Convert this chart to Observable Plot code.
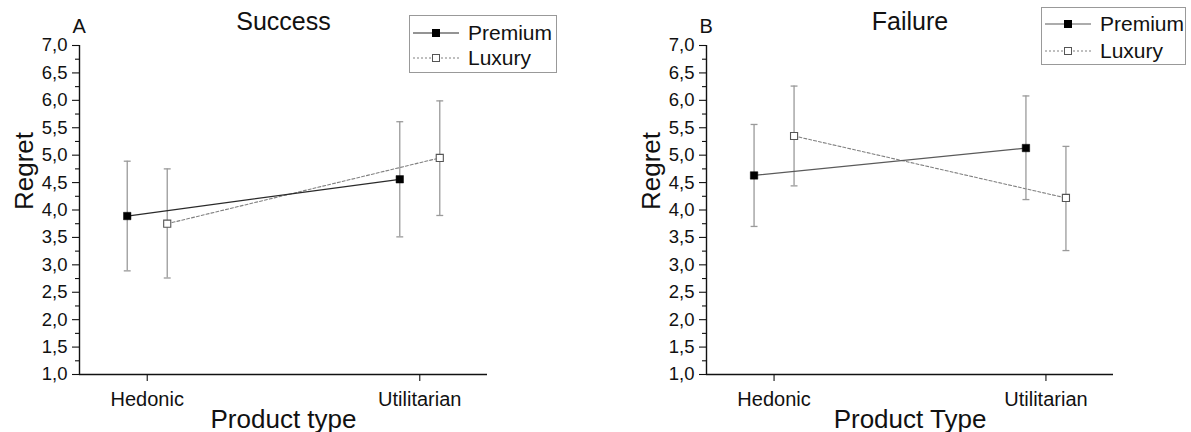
<!DOCTYPE html>
<html>
<head>
<meta charset="utf-8">
<script src="https://cdn.jsdelivr.net/npm/d3@7"></script>
<script src="https://cdn.jsdelivr.net/npm/@observablehq/plot@0.6"></script>
<style>
  html, body { margin: 0; padding: 0; background: #fff; }
  #root { position: relative; width: 1191px; height: 432px; overflow: hidden; font-family: "Liberation Sans", Arial, sans-serif; color: #111; }
  .panel { position: absolute; top: 0; }
  .legend { position: absolute; border: 1px solid #999; background: #fff; box-sizing: border-box; }
  .legend .row { position: absolute; left: 2px; display: flex; align-items: center; height: 24px; }
  .legend .row span { font-size: 21px; line-height: 24px; margin-left: 8px; color: #111; }
  .legend svg { display: block; }
</style>
</head>
<body>
<div id="root"></div>
<script>
// ---------- data ----------
const categories = ["Hedonic", "Utilitarian"];
const seriesNames = ["Premium", "Luxury"];
const yTickValues = [1, 1.5, 2, 2.5, 3, 3.5, 4, 4.5, 5, 5.5, 6, 6.5, 7];
const yMinorTickValues = [1.25, 1.75, 2.25, 2.75, 3.25, 3.75, 4.25, 4.75, 5.25, 5.75, 6.25, 6.75];

// Panel A: Success
const successPremium   = [3.89, 4.56];
const successPremiumLo = [2.89, 3.51];
const successPremiumHi = [4.89, 5.61];
const successLuxury    = [3.75, 4.95];
const successLuxuryLo  = [2.76, 3.90];
const successLuxuryHi  = [4.75, 5.99];

// Panel B: Failure
const failurePremium   = [4.63, 5.13];
const failurePremiumLo = [3.70, 4.19];
const failurePremiumHi = [5.56, 6.08];
const failureLuxury    = [5.35, 4.22];
const failureLuxuryLo  = [4.44, 3.26];
const failureLuxuryHi  = [6.26, 5.16];

const panels = [
  {letter: "A", title: "Success", xLabel: "Product type",
   premium: [successPremium, successPremiumLo, successPremiumHi],
   luxury: [successLuxury, successLuxuryLo, successLuxuryHi],
   left: 0, width: 595, mLeft: 79, mRight: 108, premiumLine: "#2a2a2a",
   legend: {left: 409, top: 15, width: 148, height: 58, rows: [5, 30]}},
  {letter: "B", title: "Failure", xLabel: "Product Type",
   premium: [failurePremium, failurePremiumLo, failurePremiumHi],
   luxury: [failureLuxury, failureLuxuryLo, failureLuxuryHi],
   left: 596, width: 595, mLeft: 110, mRight: 78, premiumLine: "#5a5a5a",
   legend: {left: 1041, top: 7, width: 145, height: 58, rows: [4, 31]}}
];

const xDomain = [-0.2485, 1.2485];
const yDomain = [1, 7];
const fmt = d => d.toFixed(1).replace(".", ",");
const capSymbol = {draw(ctx, size) { const w = Math.sqrt(size) / 2; ctx.moveTo(-w, 0); ctx.lineTo(w, 0); }};

function rows(vals, name) {
  const [m, lo, hi] = vals;
  return categories.map((c, i) => ({cat: c, xi: i, series: name, mean: m[i], lo: lo[i], hi: hi[i]}));
}

const root = document.getElementById("root");

panels.forEach(p => {
  const prem = rows(p.premium, seriesNames[0]);
  const lux = rows(p.luxury, seriesNames[1]);
  const off = 20;
  const errColor = "#9a9a9a";
  const seriesMarks = (data, dx, lineStyle) => [
    Plot.line(data, {x: "xi", y: "mean", dx, ...lineStyle}),
    Plot.ruleX(data, {x: "xi", y1: "lo", y2: "hi", dx, stroke: errColor, strokeWidth: 1.3}),
    Plot.dot(data, {x: "xi", y: "lo", dx, symbol: capSymbol, r: 3.9, stroke: errColor, strokeWidth: 1.3}),
    Plot.dot(data, {x: "xi", y: "hi", dx, symbol: capSymbol, r: 3.9, stroke: errColor, strokeWidth: 1.3}),
  ];
  const chart = Plot.plot({
    width: p.width, height: 432,
    marginLeft: p.mLeft, marginRight: p.mRight, marginTop: 45, marginBottom: 58,
    style: {fontFamily: "'Liberation Sans', Arial, sans-serif", color: "#111", background: "#fff"},
    x: {domain: xDomain},
    y: {domain: yDomain},
    marks: [
      Plot.axisY({ticks: yMinorTickValues, tickSize: 4, tickFormat: () => "", label: null, strokeWidth: 1.1, stroke: "#111"}),
      Plot.axisY({ticks: yTickValues, tickSize: 7, tickPadding: 5, tickFormat: fmt, label: null, fontSize: 18.5, strokeWidth: 1.1, stroke: "#111"}),
      Plot.axisX({ticks: [0, 1], tickSize: 7, tickPadding: 10, tickFormat: i => categories[i], label: null, fontSize: 20, strokeWidth: 1.1, stroke: "#111"}),
      Plot.ruleX([xDomain[0]], {stroke: "#111", strokeWidth: 1.4}),
      Plot.ruleY([yDomain[0]], {stroke: "#111", strokeWidth: 1.4}),
      ...seriesMarks(lux, off, {stroke: "#808080", strokeWidth: 1.1, strokeDasharray: "3,2"}),
      ...seriesMarks(prem, -off, {stroke: p.premiumLine, strokeWidth: 1.2}),
      Plot.dot(prem, {x: "xi", y: "mean", dx: -off, symbol: "square", r: 4.2, fill: "#000", stroke: "#000", strokeWidth: 0.5}),
      Plot.dot(lux, {x: "xi", y: "mean", dx: off, symbol: "square", r: 4.0, fill: "#fff", stroke: "#555", strokeWidth: 1.1}),
      Plot.text([p.title], {frameAnchor: "top", dy: -16, lineAnchor: "bottom", fontSize: 25, fill: "#111"}),
      Plot.text([p.letter], {frameAnchor: "top-left", dx: -7, dy: -13, lineAnchor: "bottom", textAnchor: "start", fontSize: 20, fill: "#111"}),
      Plot.text([p.xLabel], {frameAnchor: "bottom", dy: 53, lineAnchor: "bottom", fontSize: 26, fill: "#111"}),
      Plot.text(["Regret"], {frameAnchor: "left", dx: -47, rotate: -90, lineAnchor: "bottom", fontSize: 26, fill: "#111"})
    ]
  });
  chart.classList.add("panel");
  chart.style.left = p.left + "px";
  root.appendChild(chart);

  // legend
  const lg = document.createElement("div");
  lg.className = "legend";
  Object.assign(lg.style, {left: p.legend.left + "px", top: p.legend.top + "px", width: p.legend.width + "px", height: p.legend.height + "px"});
  seriesNames.forEach((name, i) => {
    const row = document.createElement("div");
    row.className = "row";
    row.style.top = p.legend.rows[i] + "px";
    const svg = d3.create("svg").attr("width", 48).attr("height", 24);
    const isPrem = i === 0;
    svg.append("line").attr("x1", 1).attr("x2", 47).attr("y1", 12).attr("y2", 12)
      .attr("stroke", isPrem ? p.premiumLine : "#808080").attr("stroke-width", isPrem ? 1.2 : 1.1)
      .attr("stroke-dasharray", isPrem ? null : "2,2");
    svg.append("rect").attr("x", 20.5).attr("y", 8.5).attr("width", 7).attr("height", 7)
      .attr("fill", isPrem ? "#000" : "#fff").attr("stroke", isPrem ? "#000" : "#555").attr("stroke-width", 1);
    row.appendChild(svg.node());
    const t = document.createElement("span");
    t.textContent = name;
    row.appendChild(t);
    lg.appendChild(row);
  });
  root.appendChild(lg);
});
</script>
</body>
</html>
